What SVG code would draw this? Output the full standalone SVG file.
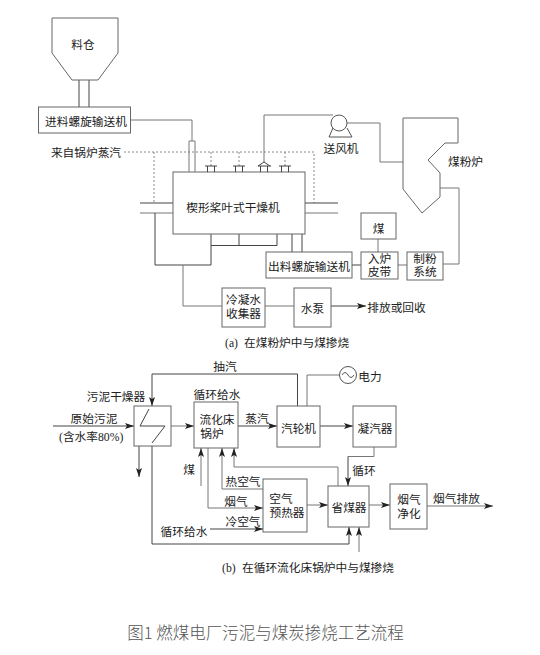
<svg xmlns="http://www.w3.org/2000/svg" width="540" height="655" viewBox="0 0 540 655">
<style>
.n{fill:none;stroke:#555;stroke-width:1}
.b{fill:#fff;stroke:#666;stroke-width:1}
.c{fill:none;stroke:#444;stroke-width:1}
.g{fill:none;stroke:#777;stroke-width:1}
.d{fill:none;stroke:#888;stroke-width:1;stroke-dasharray:2 2}
.a{marker-end:url(#ah)}
text{font-family:"Noto Sans CJK SC","Liberation Serif",serif;font-size:11.700px;fill:#222;text-anchor:middle;dominant-baseline:central}
.s{font-family:"Liberation Serif","Noto Sans CJK SC",serif}
.l{font-family:"Liberation Serif","Noto Sans CJK SC",serif;text-anchor:start}
.cap{font-family:"Noto Sans CJK SC","Noto Sans",sans-serif;font-size:16.500px;fill:#555;font-weight:300}
</style>
<defs>
<marker id="ah" markerUnits="userSpaceOnUse" markerWidth="10" markerHeight="8" refX="9" refY="4" orient="auto"><path d="M0,1 L9,4 L0,7 L2,4 Z" fill="#222"/></marker>
</defs>
<rect width="540" height="655" fill="#fff"/>
<g id="connectors">
<path class="c" d="M79,80V107M89,80V107"/>
<path class="g" d="M130.500,120H192V141"/>
<path class="d" d="M124,152H314V203M154,152V203M211,152V166M239,152V166M285,152V166"/>
<path class="g" d="M264,162V115H333"/>
<path class="g" d="M347,123H380V162H403"/>
<path class="c" d="M140,203H173M305,203H338"/>
<path class="g" d="M140,213H173M305,213H338"/>
<path class="c" d="M211,234V265H155V213M239,234V245.500M277,234V245.500M211,245.500H277"/>
<path class="g" d="M183,265V306H222"/>
<path class="c" d="M292,234V252M302,234V252"/>
<path class="g" d="M378,239V252M398,265H407M443,264H459V188H440"/>
<path class="c" d="M352,265H361"/>
<path class="g" d="M265,306H294"/>
<path class="c a" d="M331,306H366"/>
<path class="c a" d="M53,426H134"/>
<path class="g a" d="M171,426H194"/>
<path class="c a" d="M238,426H277"/>
<path class="c a" d="M297.500,406V374H152V406"/>
<path class="g" d="M307,406V375H339.500"/>
<path class="c a" d="M320,426H353"/>
<path class="g" d="M374,447V456.500H348"/>
<path class="c a" d="M348,456.500V486"/>
<path class="c a" d="M139,446V477"/>
<path class="c a" d="M152,446V544H349V527"/>
<path class="g a" d="M359,552V527"/>
<path class="g a" d="M338,486V467H234V448"/>
<path class="g a" d="M263,489H222V448"/>
<path class="g a" d="M201,486V448"/>
<path class="g a" d="M208,448V508H263"/>
<path class="c a" d="M210,529H263"/>
<path class="g a" d="M307,505H328"/>
<path class="g a" d="M369,505H390"/>
<path class="g a" d="M427,506H493"/>
</g>
<g id="hopper"><path class="b" d="M52,18H118V53L98,80H72L52,53Z"/><text x="83" y="43">料仓</text></g>
<g id="feed-screw"><rect class="b" x="38.500" y="107" width="92" height="26"/><text x="86" y="120.500">进料螺旋输送机</text></g>
<g id="steam-label"><text x="86" y="151">来自锅炉蒸汽</text></g>
<g id="dryer"><rect class="b" x="173" y="172" width="132" height="62"/><text x="233" y="206">楔形桨叶式干燥机</text>
<path class="g" d="M189,172V141H195V172"/>
<path class="c" d="M205,166H217M207.500,166V172M214.500,166V172M233,166H245M235.500,166V172M242.500,166V172M279,166H291M281.500,166V172M288.500,166V172M258,166H271M260.500,166V172M267.500,166V172M258,166L264,162L270,166"/></g>
<g id="blower"><circle class="n" cx="339" cy="123" r="8"/><path class="n" d="M333,128L329,137H352L347,128"/><text x="341" y="147">送风机</text></g>
<g id="furnace"><path class="b" d="M403,118H458V143H445L428,160L440,173V197L422,213L403,189Z"/><text x="465.500" y="160">煤粉炉</text></g>
<g id="coal"><rect class="b" x="361" y="213" width="35" height="26"/><text x="378.500" y="227">煤</text></g>
<g id="belt"><rect class="b" x="361" y="252" width="37" height="27"/><text class="s" x="379.500" y="259">入炉</text><text class="s" x="379.500" y="272.500">皮带</text></g>
<g id="mill"><rect class="b" x="407" y="252" width="36" height="28"/><text class="s" x="425" y="259">制粉</text><text class="s" x="425" y="272.500">系统</text></g>
<g id="discharge-screw"><rect class="b" x="266" y="252" width="86" height="26"/><text x="309" y="265">出料螺旋输送机</text></g>
<g id="condensate"><rect class="b" x="222" y="288" width="43" height="39"/><text class="s" x="243.500" y="300">冷凝水</text><text class="s" x="243.500" y="314">收集器</text></g>
<g id="pump"><rect class="b" x="294" y="288" width="37" height="39"/><text x="312.500" y="307">水泵</text></g>
<g id="labels-a"><text x="396.500" y="306.500">排放或回收</text><text class="l" x="225" y="343">(a)<tspan x="244">在煤粉炉中与煤掺烧</tspan></text></g>
<g id="separator"><rect class="b" x="134" y="406" width="37" height="40"/><path class="c" d="M149,409L140,426H165L152,443"/></g>
<g id="boiler"><rect class="b" x="194" y="402" width="44" height="46"/><text class="s" x="217" y="420">流化床</text><text class="s" x="212" y="434">锅炉</text></g>
<g id="turbine"><rect class="b" x="277" y="406" width="43" height="41"/><text x="298.500" y="427">汽轮机</text></g>
<g id="condenser"><rect class="b" x="353" y="406" width="43" height="41"/><text x="375" y="427">凝汽器</text></g>
<g id="generator"><circle class="n" cx="348" cy="375" r="8.500"/><path class="n" d="M342,375Q345,370 348,375T354,375"/><text x="370" y="375">电力</text></g>
<g id="preheater"><rect class="b" x="263" y="479" width="44" height="53"/><text class="s" x="281" y="499.500">空气</text><text class="s" x="287" y="513">预热器</text></g>
<g id="economizer"><rect class="b" x="328" y="486" width="41" height="41"/><text x="349" y="506">省煤器</text></g>
<g id="gas-clean"><rect class="b" x="390" y="484" width="37" height="45"/><text class="s" x="409" y="500.500">烟气</text><text class="s" x="409" y="514">净化</text></g>
<g id="labels-b">
<text x="225" y="365">抽汽</text>
<text x="116" y="395">污泥干燥器</text>
<text x="217" y="393">循环给水</text>
<text x="94" y="417">原始污泥</text>
<text class="l" x="59" y="437">(含水率80%)</text>
<text x="257" y="417">蒸汽</text>
<text x="189" y="468">煤</text>
<text x="243" y="480">热空气</text>
<text x="236" y="500">烟气</text>
<text x="243" y="520">冷空气</text>
<text x="184" y="530">循环给水</text>
<text x="364" y="469">循环</text>
<text x="456.500" y="497">烟气排放</text>
<text class="l" x="222" y="568">(b)<tspan x="242">在循环流化床锅炉中与煤掺烧</tspan></text>
<text class="cap" x="265.500" y="631.500">图1 燃煤电厂污泥与煤炭掺烧工艺流程</text>
</g>
</svg>
